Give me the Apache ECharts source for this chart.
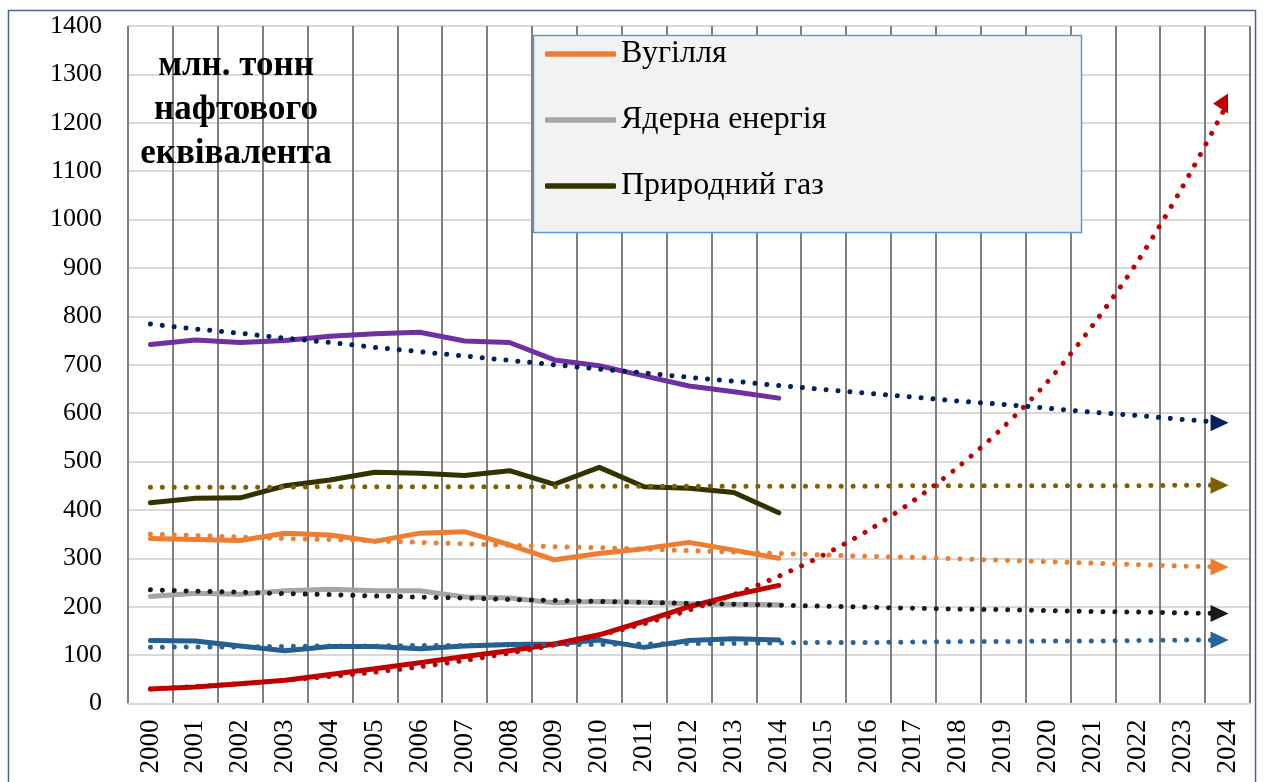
<!DOCTYPE html>
<html>
<head>
<meta charset="utf-8">
<script src="https://cdn.jsdelivr.net/npm/echarts@6/dist/echarts.min.js"></script>
<style>
  html, body { margin: 0; padding: 0; background: #fff; }
  #main { width: 1268px; height: 782px; }
</style>
</head>
<body>
<div id="main"></div>
<script>
// роки
const years = [];
for (let y = 2000; y <= 2024; y++) years.push(String(y));

// фактичні дані 2000-2014, млн. т н.е.
const oil = [742, 751, 746, 750, 759, 764, 767, 749, 746, 710, 698, 677, 656, 644, 631];
const gas = [415, 424, 425, 450, 462, 478, 476, 471, 481, 453, 488, 448, 445, 436, 394];
const coal = [341, 339, 337, 352, 348, 335, 352, 355, 328, 297, 310, 320, 333, 317, 300];
const nuclear = [221, 228, 226, 233, 236, 233, 233, 220, 218, 208, 211, 209, 206, 205, 204];
const hydro = [130, 129, 119, 109, 118, 118, 113, 119, 122, 123, 131, 116, 130, 134, 131];
const renew = [30, 34, 41, 48, 60, 72, 84, 97, 109, 123, 142, 170, 200, 224, 244];

// лінії тренду 2000-2024
const oilTrend = [784, 774, 765, 755, 746, 736, 727, 718, 709, 700, 691, 683, 674, 666, 657, 649, 641, 633, 625, 618, 610, 602, 595, 587, 580];
const gasTrend = [447, 447, 447, 447, 448, 448, 448, 448, 448, 448, 449, 449, 449, 449, 449, 449, 449, 450, 450, 450, 450, 450, 450, 451, 451];
const coalTrend = [350, 347, 344, 341, 339, 336, 333, 330, 327, 324, 322, 319, 316, 313, 310, 307, 304, 302, 299, 296, 293, 290, 287, 284, 282];
const nuclearTrend = [235, 232, 230, 227, 225, 222, 220, 218, 215, 213, 211, 209, 207, 205, 203, 201, 199, 197, 195, 194, 192, 190, 189, 187, 186];
const hydroTrend = [116, 117, 117, 118, 119, 119, 120, 120, 121, 122, 122, 123, 124, 124, 125, 126, 126, 127, 128, 128, 129, 129, 130, 131, 131];
const renewTrend = [30, 35, 41, 48, 56, 65, 76, 89, 104, 121, 141, 165, 193, 225, 263, 307, 358, 419, 489, 571, 666, 782, 914, 1068, 1240];

const FONT = "Liberation Serif";

function solid(name, data, color) {
  return {
    name: name,
    type: "line",
    data: data,
    symbol: "none",
    color: color,
    lineStyle: { color: color, width: 5, cap: "round", join: "round" },
    z: 2
  };
}

// пунктирна лінія тренду зі стрілкою в кінці
function trend(name, data, color, arrowLeft) {
  const d = data.slice();
  const last = d.length - 1;
  d[last] = {
    value: d[last],
    symbol: "triangle",
    symbolSize: arrowLeft ? [20, 15] : [17, 18],
    symbolRotate: arrowLeft ? 90 : -90,
    symbolOffset: arrowLeft ? [-7, 0] : [-8, 0],
    itemStyle: { color: color }
  };
  return {
    name: name,
    type: "line",
    data: d,
    symbol: "none",
    smooth: arrowLeft ? 0.3 : false,
    color: color,
    lineStyle: { color: color, width: 5, type: [0.01, 11.9], cap: "round" },
    z: 3
  };
}

const chart = echarts.init(document.getElementById("main"), null, { renderer: "canvas" });

const option = {
  animation: false,
  backgroundColor: "#ffffff",
  textStyle: { fontFamily: FONT, color: "#000" },
  grid: { left: 128, right: 18, top: 26, bottom: 78.5, containLabel: false },
  legend: {
    data: ["Вугілля", "Ядерна енергія", "Природний газ"],
    orient: "vertical",
    left: 545,
    top: 38,
    padding: 0,
    itemGap: 34,
    itemWidth: 71,
    itemHeight: 5.5,
    icon: "roundRect",
    textStyle: { fontFamily: FONT, fontSize: 32, color: "#000", lineHeight: 32 },
    z: 5
  },
  xAxis: {
    type: "category",
    data: years,
    boundaryGap: true,
    axisLine: { show: true, lineStyle: { color: "#d9d9d9", width: 2 } },
    axisTick: { show: false },
    axisLabel: {
      interval: 0,
      rotate: 90,
      margin: 16,
      fontFamily: FONT,
      fontSize: 27,
      color: "#000"
    },
    splitLine: { show: true, interval: 0, lineStyle: { color: "#7f7f7f", width: 2 } }
  },
  yAxis: {
    type: "value",
    min: 0,
    max: 1400,
    interval: 100,
    axisLine: { show: false },
    axisTick: { show: false },
    axisLabel: {
      margin: 26,
      fontFamily: FONT,
      fontSize: 26,
      color: "#000",
      formatter: function (v) { return String(v); }
    },
    splitLine: { show: true, lineStyle: { color: "#d9d9d9", width: 2 } }
  },
  graphic: [
    {
      type: "rect",
      z: 4,
      shape: { x: 533.5, y: 35.5, width: 548, height: 197 },
      style: { fill: "#f2f2f2", stroke: "#5b9bd5", lineWidth: 1.5 }
    },
    {
      type: "text",
      z: 6,
      x: 236,
      y: 44,
      style: {
        text: "млн. тонн\nнафтового\nеквівалента",
        fontFamily: FONT,
        fontWeight: "bold",
        fontSize: 35,
        lineHeight: 44,
        fill: "#000",
        align: "center",
        verticalAlign: "top"
      }
    },
    {
      type: "rect",
      z: 10,
      shape: { x: 8.5, y: 10.5, width: 1247, height: 800 },
      style: { fill: null, stroke: "#4a6591", lineWidth: 1.5 }
    }
  ],
  series: [
    solid("Нафта", oil, "#7030a0"),
    solid("Природний газ", gas, "#333300"),
    solid("Вугілля", coal, "#ed7d31"),
    solid("Ядерна енергія", nuclear, "#a5a5a5"),
    solid("Гідроенергія", hydro, "#255e91"),
    solid("Відновлювані джерела", renew, "#c00000"),
    trend("Тренд (Нафта)", oilTrend, "#002060"),
    trend("Тренд (Природний газ)", gasTrend, "#7f6000"),
    trend("Тренд (Вугілля)", coalTrend, "#ed7d31"),
    trend("Тренд (Ядерна енергія)", nuclearTrend, "#1a1a1a"),
    trend("Тренд (Гідроенергія)", hydroTrend, "#2a6496"),
    trend("Тренд (Відновлювані)", renewTrend, "#c00000", true)
  ]
};

chart.setOption(option);
</script>
</body>
</html>
